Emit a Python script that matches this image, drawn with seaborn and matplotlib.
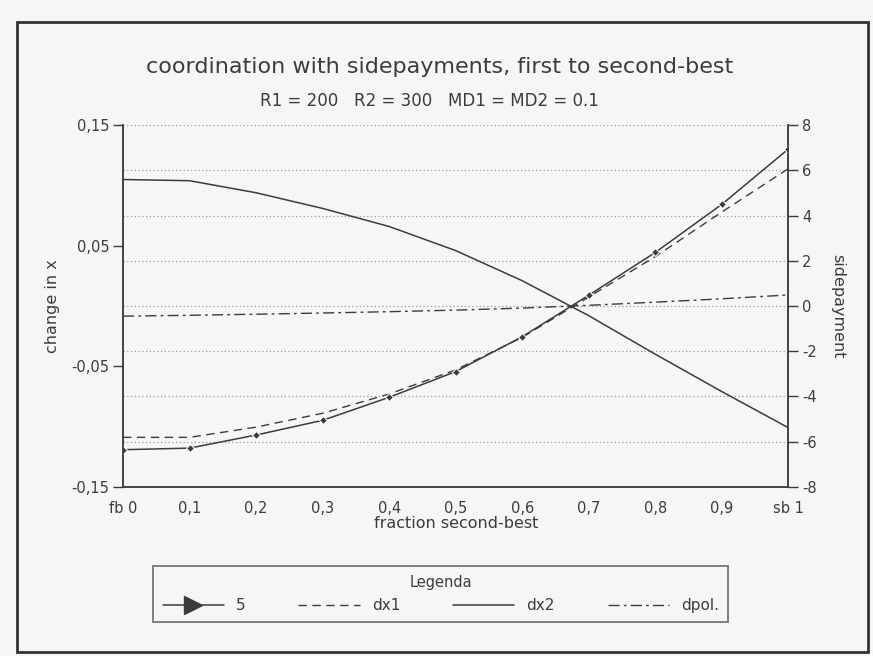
import matplotlib
matplotlib.use("Agg")
import matplotlib.pyplot as plt
import matplotlib.lines as mlines
from matplotlib.patches import Rectangle
import seaborn as sns
import pandas as pd

# ------------------------------------------------------------------
# data
# ------------------------------------------------------------------
FRACTION = [0.0, 0.1, 0.2, 0.3, 0.4, 0.5, 0.6, 0.7, 0.8, 0.9, 1.0]
X_TICKLABELS = ["fb 0", "0,1", "0,2", "0,3", "0,4", "0,5", "0,6", "0,7", "0,8", "0,9", "sb 1"]

# sidepayment (right axis)
SIDEPAY_5 = [-6.36, -6.29, -5.71, -5.06, -4.04, -2.90, -1.36, 0.48, 2.37, 4.50, 6.95]

# change in x (left axis)
DX1 = [-0.109, -0.109, -0.1005, -0.089, -0.073, -0.053, -0.026, 0.0075, 0.041, 0.078, 0.114]
DX2 = [0.105, 0.104, 0.094, 0.081, 0.066, 0.046, 0.021, -0.008, -0.040, -0.071, -0.101]
DPOL = [-0.0084, -0.0077, -0.0068, -0.0058, -0.0047, -0.0034, -0.0017, 0.0006, 0.0032, 0.0060, 0.0092]

LEFT_TICKS = [0.15, 0.05, -0.05, -0.15]
LEFT_TICKLABELS = ["0,15", "0,05", "-0,05", "-0,15"]
RIGHT_TICKS = [8, 6, 4, 2, 0, -2, -4, -6, -8]

SERIES_NAMES = ["5", "dx1", "dx2", "dpol."]

df = pd.DataFrame({"fraction": FRACTION, "s5": SIDEPAY_5,
                   "dx1": DX1, "dx2": DX2, "dpol": DPOL})

# ------------------------------------------------------------------
sns.set_style("white")
plt.rcParams["font.family"] = ["DejaVu Sans"]
INK = "#3c3c3c"
PAPER = "#f6f6f4"
plt.rcParams["text.color"] = INK
plt.rcParams["axes.labelcolor"] = INK
plt.rcParams["xtick.color"] = INK
plt.rcParams["ytick.color"] = INK

fig = plt.figure(figsize=(8.73, 6.56), dpi=100, facecolor=PAPER)
ax = fig.add_axes([0.141, 0.258, 0.762, 0.551])
ax.set_facecolor(PAPER)
ax2 = ax.twinx()

# dotted grid at every sidepayment tick (drawn on the left axis scale)
for v in RIGHT_TICKS[:-1]:
    ax.axhline(v * 0.15 / 8, color="#9a9a9a", linestyle=(0, (1, 2)),
               linewidth=0.9, zorder=0)

sns.lineplot(data=df, x="fraction", y="dx1", ax=ax, color=INK,
             linewidth=1.0, linestyle=(0, (6, 4)), legend=False)
sns.lineplot(data=df, x="fraction", y="dx2", ax=ax, color=INK,
             linewidth=1.1, legend=False)
sns.lineplot(data=df, x="fraction", y="dpol", ax=ax, color=INK,
             linewidth=1.0, linestyle=(0, (8, 3, 2, 3)), legend=False)
sns.lineplot(data=df, x="fraction", y="s5", ax=ax2, color=INK,
             linewidth=1.1, marker="D", markersize=4, legend=False)

ax.set_xlim(0, 1)
ax.set_ylim(-0.15, 0.15)
ax2.set_ylim(-8, 8)

ax.set_xticks(FRACTION)
ax.set_xticklabels(X_TICKLABELS, fontsize=10.5)
ax.set_yticks(LEFT_TICKS)
ax.set_yticklabels(LEFT_TICKLABELS, fontsize=10.5)
ax2.set_yticks(RIGHT_TICKS)
ax2.set_yticklabels([str(t) for t in RIGHT_TICKS], fontsize=10.5)

ax.tick_params(axis="both", direction="out", length=7, width=1, pad=3)
ax2.tick_params(axis="y", direction="out", length=7, width=1, pad=3)

for a in (ax, ax2):
    a.spines["top"].set_visible(False)
    for s in ("left", "right", "bottom"):
        a.spines[s].set_color(INK)
        a.spines[s].set_linewidth(1.1)

ax.set_xlabel("fraction second-best", fontsize=11.5, labelpad=0)
ax.set_ylabel("change in x", fontsize=11.5, labelpad=8)
ax2.set_ylabel("sidepayment", fontsize=11.5, rotation=-90, labelpad=20)

fig.text(0.504, 0.898, "coordination with sidepayments, first to second-best",
         ha="center", va="center", fontsize=16)
fig.text(0.492, 0.846, "R1 = 200   R2 = 300   MD1 = MD2 = 0.1",
         ha="center", va="center", fontsize=12)

# legend
handles = [
    mlines.Line2D([], [], color=INK, linewidth=1.1, marker=">", markersize=13),
    mlines.Line2D([], [], color=INK, linewidth=1.0, linestyle=(0, (6, 4))),
    mlines.Line2D([], [], color=INK, linewidth=1.1),
    mlines.Line2D([], [], color=INK, linewidth=1.0, linestyle=(0, (8, 3, 2, 3))),
]
leg = fig.legend(handles, SERIES_NAMES, loc="lower left",
                 bbox_to_anchor=(0.167, 0.040, 0.676, 0.105), mode="expand",
                 ncol=4, title="Legenda", numpoints=1, handlelength=4,
                 fontsize=11, title_fontsize=10.5, frameon=True, fancybox=False,
                 borderpad=0.6)
leg.get_frame().set_edgecolor("#555555")
leg.get_frame().set_linewidth(1.3)
leg.get_frame().set_facecolor(PAPER)

# outer frame around the whole chart
fig.patches.append(Rectangle((0.019, 0.006), 0.975, 0.960, transform=fig.transFigure,
                             fill=False, edgecolor="#333333", linewidth=2))

fig.savefig("out.png", dpi=100, facecolor=PAPER)
